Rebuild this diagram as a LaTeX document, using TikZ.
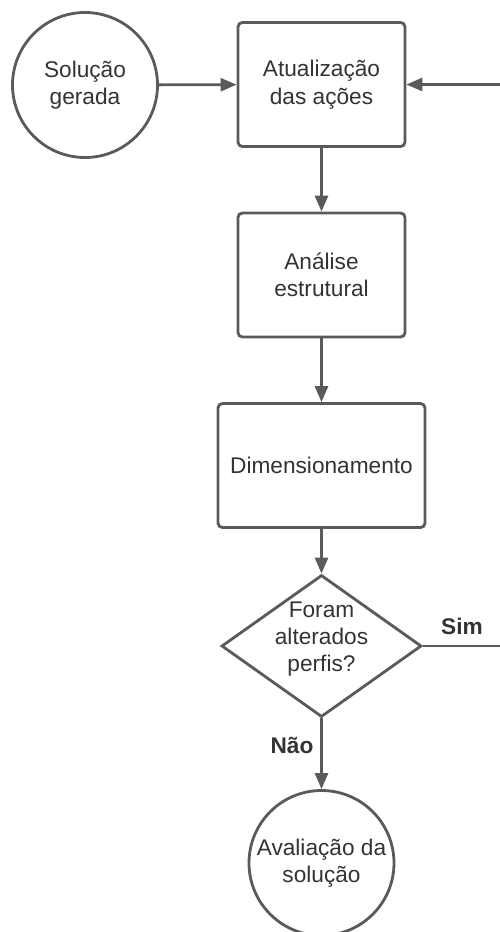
\documentclass[tikz,border=0pt]{standalone}
\usepackage{fontspec}
\setmainfont{Liberation Sans}
\usetikzlibrary{arrows.meta,positioning,shapes.geometric}
\definecolor{linegray}{HTML}{5A5A5A}
\definecolor{textgray}{HTML}{333333}

\begin{document}
\begin{tikzpicture}[
    every node/.style={font=\fontsize{12.9}{15.6}\selectfont, text=textgray},
    procbox/.style={draw=linegray, line width=1.6pt, rounded corners=2.5pt,
      minimum width=3.34cm, minimum height=2.48cm, align=center, inner sep=0pt},
    termcircle/.style={circle, draw=linegray, line width=1.6pt,
      minimum size=2.9cm, align=center, inner sep=0pt},
    decision/.style={diamond, draw=linegray, line width=1.6pt,
      minimum width=4cm, minimum height=2.84cm, inner sep=0pt},
    flow/.style={draw=linegray, line width=1.6pt, -{Triangle[length=0.32cm,width=0.26cm]}},
    plain/.style={draw=linegray, line width=1.6pt},
    answer/.style={font=\fontsize{12.9}{15.6}\selectfont\bfseries}
  ]
  \useasboundingbox (0,0) rectangle (10,-18.64);
  % Start and update of the actions
  \node[termcircle] (sol) at (1.70,-1.70) {Solução\\gerada};
  \node[procbox] (atual) at (6.43,-1.69) {Atualização\\das ações};
  % Analysis and design steps
  \node[procbox] (anal) at (6.43,-5.50) {Análise\\estrutural};
  \node[procbox, minimum width=4.14cm] (dim) at (6.43,-9.31) {Dimensionamento};
  % Check on the profiles (text runs a bit past the diamond)
  \node[decision] (check) at (6.43,-12.92) {};
  \node[align=center] (checktxt) at ([yshift=0.14cm]check.center) {Foram\\alterados\\perfis?};
  \node[termcircle] (aval) at (6.43,-17.26) {Avaliação da\\solução};
  % Free ends on the right border
  \coordinate (backin) at (10,-1.69);
  \coordinate (backout) at (10,-12.92);
  % Connectors
  \draw[flow] (sol) -- (atual);
  \draw[flow] (backin) -- (atual);
  \draw[flow] (atual) -- (anal);
  \draw[flow] (anal) -- (dim);
  \draw[flow] (dim) -- (check);
  \draw[plain] (check.east) -- (backout);
  \draw[flow] (check.south) -- (aval);
  % Answers
  \node[answer] (sim) at (9.24,-12.52) {Sim};
  \node[answer] (nao) at (5.84,-14.90) {Não};
\end{tikzpicture}
\end{document}
